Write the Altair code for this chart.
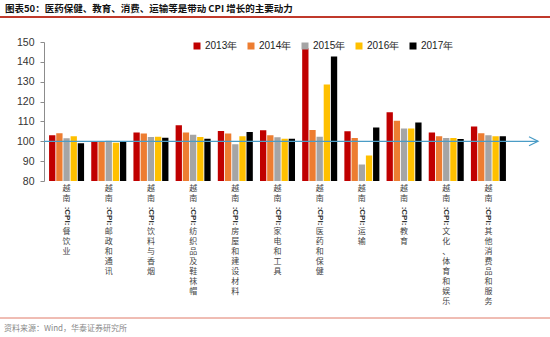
import altair as alt
import pandas as pd

title_text = "图表50：医药保健、教育、消费、运输等是带动 CPI 增长的主要动力"
source_text = "资料来源：Wind，华泰证券研究所"

categories = [
    "越南:CPI:餐饮业",
    "越南:CPI:邮政和通讯",
    "越南:CPI:饮料与香烟",
    "越南:CPI:纺织品及鞋袜帽",
    "越南:CPI:房屋和建设材料",
    "越南:CPI:家电和工具",
    "越南:CPI:医药和保健",
    "越南:CPI:运输",
    "越南:CPI:教育",
    "越南:CPI:文化、体育和娱乐",
    "越南:CPI:其他消费品和服务",
]
years = ["2013年", "2014年", "2015年", "2016年", "2017年"]
colors = ["#C00000", "#ED7D31", "#A5A5A5", "#FFC000", "#000000"]

v2013 = [103.0, 100.2, 104.4, 108.1, 105.2, 105.5, 146.8, 105.0, 114.6, 104.4, 107.4]
v2014 = [104.0, 100.0, 103.9, 104.4, 103.9, 103.0, 105.7, 101.7, 110.4, 102.5, 104.0]
v2015 = [101.5, 100.3, 102.2, 103.3, 98.5, 102.0, 102.3, 88.3, 106.5, 101.7, 103.0]
v2016 = [102.5, 99.3, 102.3, 102.2, 102.5, 101.3, 128.6, 92.8, 106.4, 101.7, 102.5]
v2017 = [99.0, 99.8, 101.8, 101.3, 104.7, 101.3, 142.7, 107.0, 109.5, 101.2, 102.5]
series = [v2013, v2014, v2015, v2016, v2017]
y_ticks = [80, 90, 100, 110, 120, 130, 140, 150]

rows = []
for i, c in enumerate(categories):
    for y, vals in zip(years, series):
        rows.append({"cat": c, "year": y, "value": vals[i]})
df = pd.DataFrame(rows)

lab_rows = []
for c in categories:
    a, b, rest = c.split(":", 2)
    lab_rows.append({"cat": c, "top": "\n".join(a), "mid": ":" + b + ":", "rest": "\n".join(rest)})
df_lab = pd.DataFrame(lab_rows)

W, H = 467, 139
CJK = "Noto Sans CJK SC"
LAT = "Liberation Sans"
line_color = "#4A9CC6"

x_enc = alt.X(
    "cat:N", sort=categories,
    scale=alt.Scale(paddingInner=0.17, paddingOuter=0.12),
    axis=alt.Axis(labels=False, title=None, bandPosition=1.102, tickSize=4,
                  domainColor="#8C8C8C", tickColor="#8C8C8C"),
)
x_plain = alt.X("cat:N", sort=categories, axis=None)

y_scale = alt.Scale(domain=[80, 150], nice=False, zero=False)
y_axis = alt.Axis(values=y_ticks, title=None, grid=False, labelOverlap=False,
                  tickSize=4, labelPadding=6, labelFont=LAT, labelFontSize=10.5,
                  labelColor="#333", domainColor="#8C8C8C", tickColor="#8C8C8C")

bars = alt.Chart(df).mark_bar(clip=True).encode(
    x=x_enc,
    xOffset=alt.XOffset("year:N", sort=years, scale=alt.Scale(paddingInner=0.12)),
    y=alt.Y("value:Q", scale=y_scale, axis=y_axis),
    color=alt.Color("year:N", sort=years, scale=alt.Scale(domain=years, range=colors),
                    legend=alt.Legend(orient="none", legendX=148, legendY=-1,
                                      direction="horizontal", title=None,
                                      symbolType="square", symbolSize=49,
                                      labelFontSize=10, labelFont=LAT, labelColor="#222",
                                      labelOffset=3, columnPadding=8, padding=0,
                                      symbolStrokeWidth=0)),
)

ref = pd.DataFrame({"value": [100]})
hline = alt.Chart(ref).mark_rule(color=line_color, strokeWidth=1.3).encode(
    y=alt.Y("value:Q", scale=y_scale, axis=y_axis), x=alt.value(0), x2=alt.value(494))
arrow = alt.Chart(ref).mark_point(shape="M-2,-1L0,0L-2,1", filled=False, size=81,
                                  strokeWidth=1.3, color=line_color, opacity=1).encode(
    y=alt.Y("value:Q", scale=y_scale, axis=y_axis), x=alt.value(494))

lab_a = alt.Chart(df_lab).mark_text(lineBreak="\n", lineHeight=10, baseline="top",
                                    font=CJK, fontSize=8, color="#444").encode(
    x=x_plain, y=alt.value(H + 4), text="top:N")
lab_b = alt.Chart(df_lab).mark_text(angle=90, baseline="middle", align="center",
                                    font=LAT, fontSize=8, fontWeight="bold", color="#333").encode(
    x=x_plain, y=alt.value(H + 35), text="mid:N")
lab_c = alt.Chart(df_lab).mark_text(lineBreak="\n", lineHeight=10, baseline="top",
                                    font=CJK, fontSize=8, color="#444").encode(
    x=x_plain, y=alt.value(H + 47), text="rest:N")

one = pd.DataFrame({"t": [title_text]})
title = alt.Chart(one).mark_text(align="left", baseline="middle", font=CJK, fontSize=9.5,
                                 fontWeight="bold", color="#111").encode(
    text="t:N", x=alt.value(-39), y=alt.value(-33))
top_rule = alt.Chart(one).mark_rule(color="#C0392B", strokeWidth=2).encode(
    x=alt.value(-44), x2=alt.value(506), y=alt.value(-25))

src = pd.DataFrame({"t": [source_text]})
source = alt.Chart(src).mark_text(align="left", baseline="middle", font=CJK, fontSize=8,
                                  color="#888").encode(
    text="t:N", x=alt.value(-40), y=alt.value(287))
bottom_rule = alt.Chart(src).mark_rule(color="#E07A68", strokeWidth=1).encode(
    x=alt.value(-44), x2=alt.value(506), y=alt.value(276))

chart = alt.layer(top_rule, title, bars, hline, arrow, lab_a, lab_b, lab_c,
                  bottom_rule, source).properties(
    width=W, height=H,
    autosize=alt.AutoSizeParams(type="none"),
    padding={"left": 44, "top": 42, "right": 39, "bottom": 156},
    background="white",
).configure_view(stroke=None)

chart.save("out.html", embed_options={"renderer": "svg", "actions": False})
